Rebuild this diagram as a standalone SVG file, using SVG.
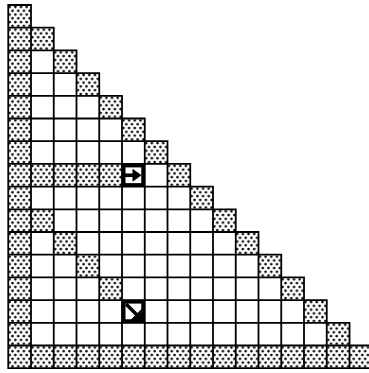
<svg xmlns="http://www.w3.org/2000/svg" width="369" height="373" viewBox="0 0 369 373">
  <defs>
    <pattern id="dots" patternUnits="userSpaceOnUse" x="0" y="0" width="5.6875" height="7.566667">
      <rect width="5.6875" height="7.566667" fill="#fff"/>
      <circle cx="1.42" cy="1.9" r="1.3" fill="#000"/>
      <circle cx="4.27" cy="5.68" r="1.3" fill="#000"/>
      <rect x="0.6" y="1.1" width="1.7" height="1.7" fill="#000" shape-rendering="crispEdges"/>
      <rect x="3.45" y="4.85" width="1.7" height="1.7" fill="#000" shape-rendering="crispEdges"/>
    </pattern>
  </defs>
  <style>
    .p { fill: url(#dots); }
    .grid { fill: none; stroke: #000; stroke-width: 1.8; stroke-linecap: square; }
    .frame { fill: #fff; stroke: #000; stroke-width: 3.8; }
    .shaft { stroke: #000; stroke-width: 3.6; fill: none; }
    .head { fill: #000; }
  </style>
  <rect width="369" height="373" fill="#fff"/>
  <g transform="translate(8.25 5)">
    <g id="row0"><rect class="p" x="0" y="0" width="22.75" height="22.7"/></g>
    <g id="row1"><rect class="p" x="0" y="22.7" width="45.5" height="22.7"/></g>
    <g id="row2"><rect class="p" x="0" y="45.4" width="22.75" height="22.7"/><rect class="p" x="45.5" y="45.4" width="22.75" height="22.7"/></g>
    <g id="row3"><rect class="p" x="0" y="68.1" width="22.75" height="22.7"/><rect class="p" x="68.25" y="68.1" width="22.75" height="22.7"/></g>
    <g id="row4"><rect class="p" x="0" y="90.8" width="22.75" height="22.7"/><rect class="p" x="91" y="90.8" width="22.75" height="22.7"/></g>
    <g id="row5"><rect class="p" x="0" y="113.5" width="22.75" height="22.7"/><rect class="p" x="113.75" y="113.5" width="22.75" height="22.7"/></g>
    <g id="row6"><rect class="p" x="0" y="136.2" width="22.75" height="22.7"/><rect class="p" x="136.5" y="136.2" width="22.75" height="22.7"/></g>
    <g id="row7"><rect class="p" x="0" y="158.9" width="113.75" height="22.7"/><rect class="p" x="159.25" y="158.9" width="22.75" height="22.7"/></g>
    <g id="row8"><rect class="p" x="0" y="181.6" width="22.75" height="22.7"/><rect class="p" x="182" y="181.6" width="22.75" height="22.7"/></g>
    <g id="row9"><rect class="p" x="0" y="204.3" width="45.5" height="22.7"/><rect class="p" x="204.75" y="204.3" width="22.75" height="22.7"/></g>
    <g id="row10"><rect class="p" x="0" y="227" width="22.75" height="22.7"/><rect class="p" x="45.5" y="227" width="22.75" height="22.7"/><rect class="p" x="227.5" y="227" width="22.75" height="22.7"/></g>
    <g id="row11"><rect class="p" x="0" y="249.7" width="22.75" height="22.7"/><rect class="p" x="68.25" y="249.7" width="22.75" height="22.7"/><rect class="p" x="250.25" y="249.7" width="22.75" height="22.7"/></g>
    <g id="row12"><rect class="p" x="0" y="272.4" width="22.75" height="22.7"/><rect class="p" x="91" y="272.4" width="22.75" height="22.7"/><rect class="p" x="273" y="272.4" width="22.75" height="22.7"/></g>
    <g id="row13"><rect class="p" x="0" y="295.1" width="22.75" height="22.7"/><rect class="p" x="295.75" y="295.1" width="22.75" height="22.7"/></g>
    <g id="row14"><rect class="p" x="0" y="317.8" width="22.75" height="22.7"/><rect class="p" x="318.5" y="317.8" width="22.75" height="22.7"/></g>
    <g id="row15"><rect class="p" x="0" y="340.5" width="364" height="22.7"/></g>

    <g id="grid">
      <path class="grid" d="M0 0H22.75M0 22.7H45.5M0 45.4H68.25M0 68.1H91M0 90.8H113.75M0 113.5H136.5M0 136.2H159.25M0 158.9H182M0 181.6H204.75M0 204.3H227.5M0 227H250.25M0 249.7H273M0 272.4H295.75M0 295.1H318.5M0 317.8H341.25M0 340.5H364M0 363.2H364
      M0 0V363.2M22.75 0V363.2M45.5 22.7V363.2M68.25 45.4V363.2M91 68.1V363.2M113.75 90.8V363.2M136.5 113.5V363.2M159.25 136.2V363.2M182 158.9V363.2M204.75 181.6V363.2M227.5 204.3V363.2M250.25 227V363.2M273 249.7V363.2M295.75 272.4V363.2M318.5 295.1V363.2M341.25 317.8V363.2M364 340.5V363.2"/>
    </g>

    <g id="arrow-right" transform="translate(113.75 158.9)">
      <rect class="frame" x="1.6" y="1.6" width="19.55" height="19.5"/>
      <path class="shaft" d="M3 11.35H12"/>
      <polygon class="head" points="10.5,4.8 19.6,11.35 10.5,17.9"/>
    </g>
    <g id="arrow-diag" transform="translate(113.75 295.1)">
      <rect class="frame" x="1.6" y="1.6" width="19.55" height="19.5"/>
      <path class="shaft" d="M4 4L15 15"/>
      <polygon class="head" points="20,20 20,8.5 8.5,20"/>
    </g>
  </g>
</svg>
